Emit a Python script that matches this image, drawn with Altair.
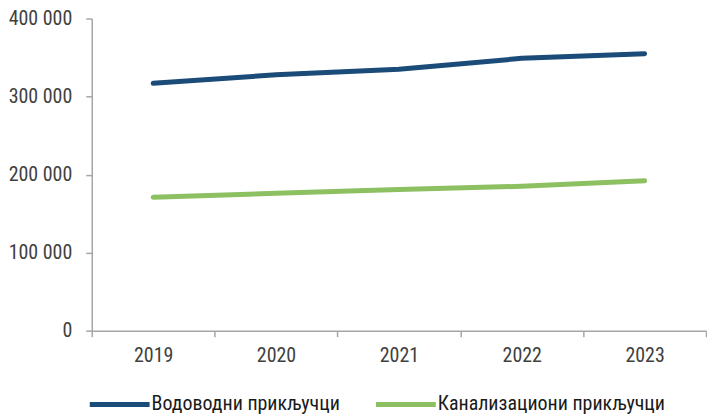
import altair as alt
import pandas as pd

years = ["2019", "2020", "2021", "2022", "2023"]
series_names = ["Водоводни прикључци", "Канализациони прикључци"]
water = [317000, 328000, 335000, 349000, 355000]
sewer = [171000, 176000, 181000, 185000, 192000]
colors = ["#1b4b78", "#8cc061"]

rows = []
for y, v in zip(years, water):
    rows.append({"year": y, "value": v, "series": series_names[0]})
for y, v in zip(years, sewer):
    rows.append({"year": y, "value": v, "series": series_names[1]})
df = pd.DataFrame(rows)

FONT = "Liberation Sans Narrow, Arial Narrow, Roboto Condensed, sans-serif"

chart = alt.Chart(df).mark_line(strokeWidth=5, strokeCap="round").encode(
    x=alt.X("year:N", bandPosition=0.5,
            scale=alt.Scale(type="band", domain=years, paddingInner=0, paddingOuter=0),
            axis=alt.Axis(title=None, labelAngle=0, tickBand="extent", tickSize=6,
                          labelPadding=9, domainColor="#a6a6a6", tickColor="#a6a6a6",
                          domainWidth=1.5, tickWidth=1.5,
                          labelFont=FONT, labelFontSize=20, labelColor="#404040")),
    y=alt.Y("value:Q",
            scale=alt.Scale(domain=[0, 400000]),
            axis=alt.Axis(title=None, values=[0, 100000, 200000, 300000, 400000],
                          labelExpr="datum.value == 0 ? '0' : format(datum.value / 1000, 'd') + ' 000'",
                          grid=False, tickSize=6, labelPadding=14,
                          minExtent=83, maxExtent=83,
                          domainColor="#a6a6a6", tickColor="#a6a6a6",
                          domainWidth=1.5, tickWidth=1.5,
                          labelFont=FONT, labelFontSize=20, labelColor="#404040")),
    color=alt.Color("series:N",
                    scale=alt.Scale(domain=series_names, range=colors),
                    legend=alt.Legend(title=None, orient="none", legendX=18, legendY=377,
                                      direction="horizontal", symbolType="M-6,0H6",
                                      symbolSize=100, symbolStrokeWidth=5,
                                      labelFont=FONT, labelFontSize=20, labelColor="#1a1a1a",
                                      labelOffset=22, columnPadding=26, labelLimit=400)),
).properties(
    width=616, height=313,
    padding={"left": 0, "top": 0, "right": 0, "bottom": 0},
).configure_view(stroke=None)

chart.save("out.html", embed_options={"renderer": "svg", "actions": False})
